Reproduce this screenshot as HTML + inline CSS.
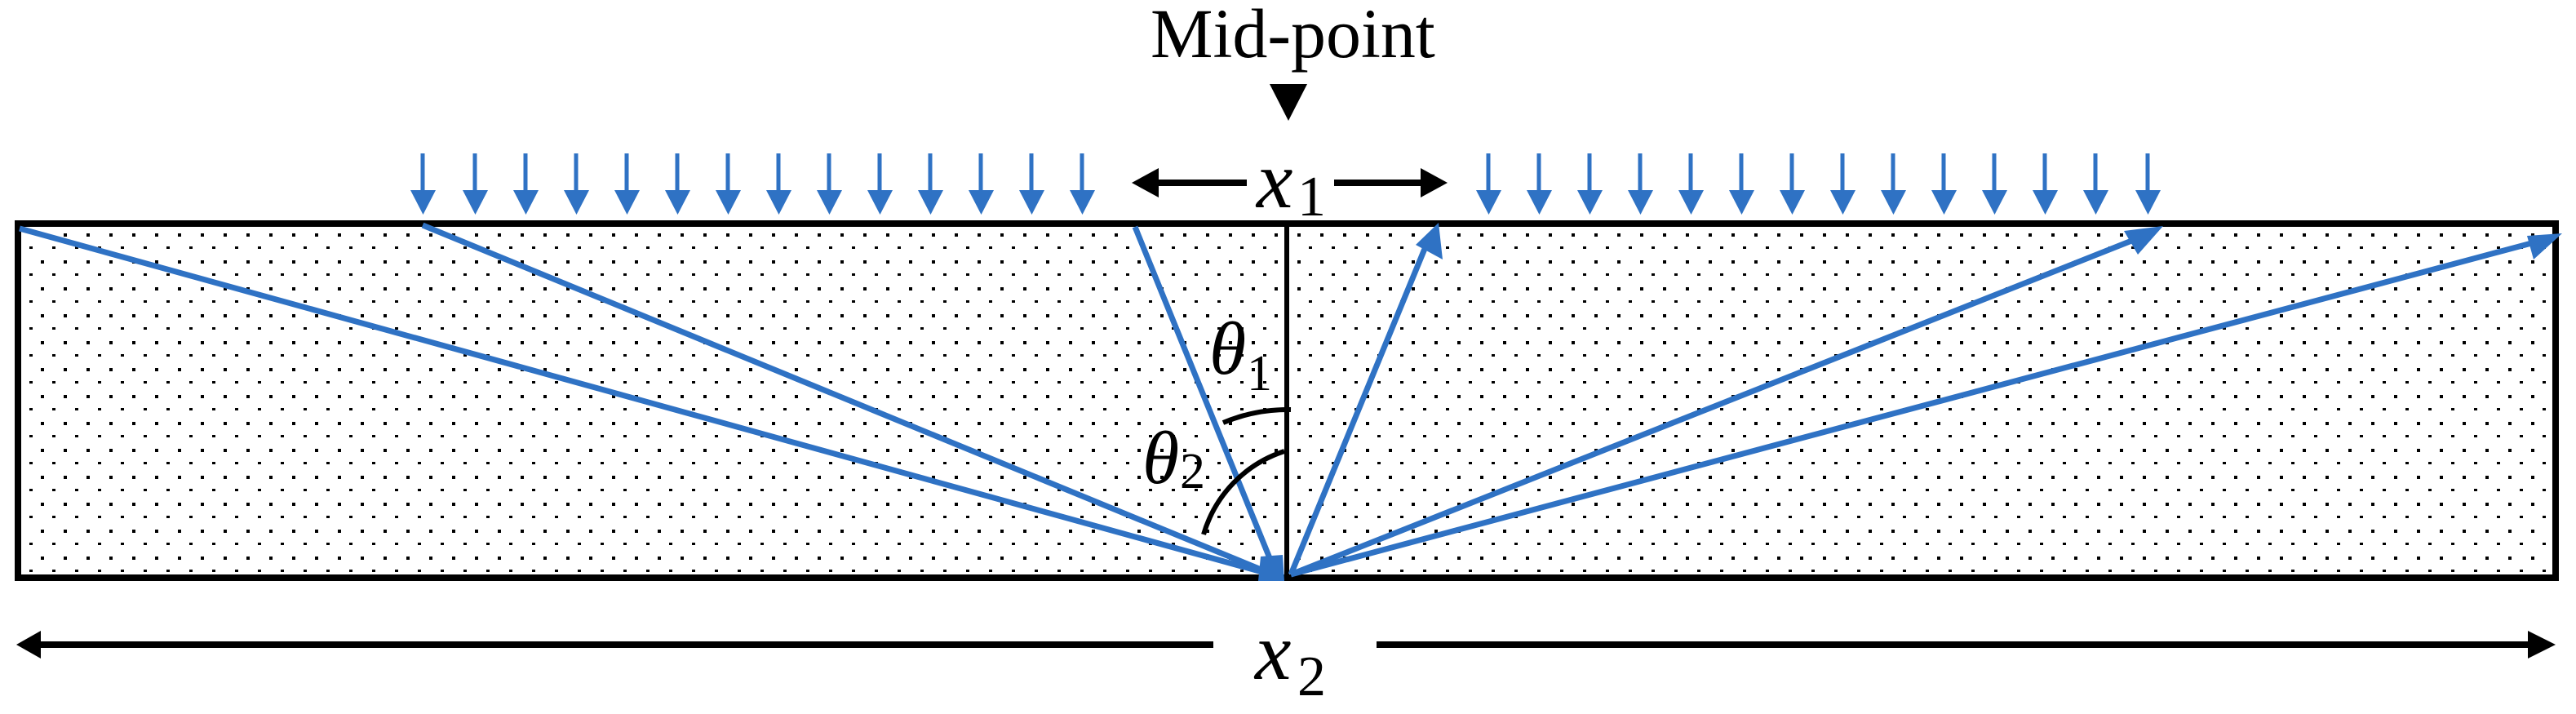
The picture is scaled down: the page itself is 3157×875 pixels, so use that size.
<!DOCTYPE html>
<html><head><meta charset="utf-8"><style>html,body{margin:0;padding:0;background:#fff}svg{display:block}</style></head>
<body>
<svg width="3157" height="875" viewBox="0 0 3157 875" xmlns="http://www.w3.org/2000/svg">
<defs>
<pattern id="dots" x="22" y="286" width="28" height="33" patternUnits="userSpaceOnUse">
<rect x="0" y="0" width="4" height="4" fill="#000"/>
<rect x="14" y="16" width="4" height="3" fill="#000"/>
</pattern>
</defs>
<rect x="22" y="274" width="3110" height="434" fill="url(#dots)" stroke="#000" stroke-width="8"/>
<line x1="1577" y1="274" x2="1577" y2="708" stroke="#000" stroke-width="6"/>
<g stroke="#2f72c4" stroke-width="5" fill="#2f72c4">
<path d="M518 188V240M582 188V240M644 188V240M706 188V240M768 188V240M830 188V240M892 188V240M954 188V240M1016 188V240M1078 188V240M1140 188V240M1202 188V240M1264 188V240M1326 188V240"/>
<path d="M1824 188V240M1886 188V240M1948 188V240M2010 188V240M2072 188V240M2134 188V240M2196 188V240M2258 188V240M2320 188V240M2382 188V240M2444 188V240M2506 188V240M2568 188V240M2632 188V240"/>
</g>
<g fill="#2f72c4">
<path d="M503 233h31l-15.5 30z M567 233h31l-15.5 30z M629 233h31l-15.5 30z M691 233h31l-15.5 30z M753 233h31l-15.5 30z M815 233h31l-15.5 30z M877 233h31l-15.5 30z M939 233h31l-15.5 30z M1001 233h31l-15.5 30z M1063 233h31l-15.5 30z M1125 233h31l-15.5 30z M1187 233h31l-15.5 30z M1249 233h31l-15.5 30z M1311 233h31l-15.5 30z"/>
<path d="M1809 233h31l-15.5 30z M1871 233h31l-15.5 30z M1933 233h31l-15.5 30z M1995 233h31l-15.5 30z M2057 233h31l-15.5 30z M2119 233h31l-15.5 30z M2181 233h31l-15.5 30z M2243 233h31l-15.5 30z M2305 233h31l-15.5 30z M2367 233h31l-15.5 30z M2429 233h31l-15.5 30z M2491 233h31l-15.5 30z M2553 233h31l-15.5 30z M2617 233h31l-15.5 30z"/>
</g>
<g stroke="#2f72c4" stroke-width="7" fill="none">
<line x1="1565" y1="706" x2="24" y2="280"/>
<line x1="1565" y1="706" x2="518" y2="276"/>
<line x1="1565" y1="706" x2="1391" y2="278"/>
<line x1="1582" y1="704" x2="1748" y2="300"/>
<line x1="1582" y1="704" x2="2620" y2="292"/>
<line x1="1582" y1="704" x2="3110" y2="296"/>
</g>
<g fill="#2f72c4">
<path d="M1763 273 L1768 318 L1735 300 z"/>
<path d="M2651 277 L2620 312 L2603 283 z"/>
<path d="M3140 286 L3105 318 L3097 289 z"/>
<path d="M1545 682 L1572 680 L1574 712 L1542 712 z"/>
</g>
<g stroke="#000" stroke-width="6" fill="none">
<path d="M1499 518 A205 205 0 0 1 1582 502"/>
<path d="M1475 655 A152 152 0 0 1 1574 553"/>
</g>
<g font-family="'Liberation Serif', serif" fill="#000">
<text x="1410" y="70" font-size="86">Mid-point</text>
<text x="1482" y="458" font-size="92" font-style="italic">θ</text>
<text x="1528" y="478" font-size="62">1</text>
<text x="1400" y="592" font-size="92" font-style="italic">θ</text>
<text x="1446" y="598" font-size="62">2</text>
<text x="1540" y="254" font-size="100" font-style="italic">x</text>
<text x="1590" y="264" font-size="70">1</text>
<text x="1538" y="832" font-size="100" font-style="italic">x</text>
<text x="1590" y="852" font-size="70">2</text>
</g>
<path d="M1556 103 H1602 L1579 148 z" fill="#000"/>
<g stroke="#000" stroke-width="8">
<line x1="1410" y1="224" x2="1528" y2="224"/>
<line x1="1635" y1="224" x2="1750" y2="224"/>
<line x1="45" y1="790" x2="1487" y2="790"/>
<line x1="1687" y1="790" x2="3110" y2="790"/>
</g>
<g fill="#000">
<path d="M1387 224 L1420 206 L1420 242 z"/>
<path d="M1774 224 L1741 206 L1741 242 z"/>
<path d="M20 790 L50 773 L50 807 z"/>
<path d="M3132 790 L3098 773 L3098 807 z"/>
</g>
</svg>
</body></html>
